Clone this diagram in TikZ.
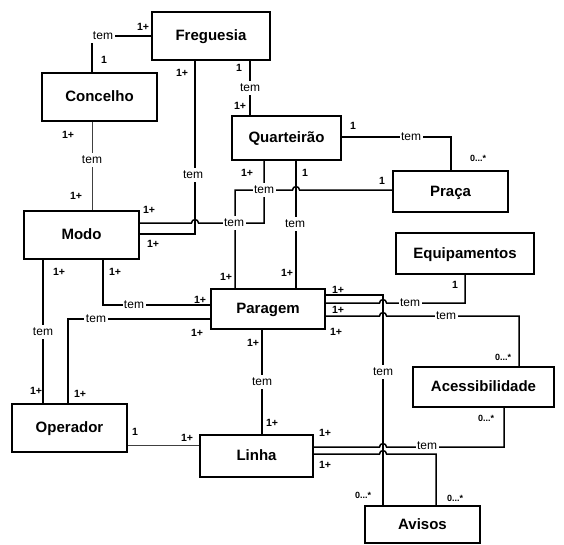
\documentclass[tikz,border=0pt]{standalone}
\usepackage{fontspec}
\setmainfont{Liberation Sans}
\begin{document}
\begin{tikzpicture}[x=1pt,y=-1pt,
  box/.style={draw,line width=2pt,fill=white,inner sep=0pt,text height=11pt,text depth=2pt,font=\bfseries\fontsize{15}{18}\selectfont},
  ln/.style={line width=1.5pt,line join=miter},
  thin/.style={line width=1pt,draw=black!75},
  tem/.style={fill=white,inner xsep=1.5pt,inner ysep=3pt,font=\fontsize{12}{13}\selectfont},
  card/.style={inner sep=0pt,font=\bfseries\fontsize{10.5}{12}\selectfont},
  cardz/.style={inner sep=0pt,font=\bfseries\fontsize{9}{10}\selectfont}]
\useasboundingbox (0,0) rectangle (564,544);
% boxes
\node[box,minimum width=118pt,minimum height=48pt] (freg) at (211,36) {Freguesia};
\node[box,minimum width=115pt,minimum height=48pt] (conc) at (99.5,97) {Concelho};
\node[box,minimum width=109pt,minimum height=44pt] (quar) at (286.5,138) {Quarteirão};
\node[box,minimum width=115pt,minimum height=41pt] (praca) at (450.5,191.5) {Praça};
\node[box,minimum width=138pt,minimum height=41pt] (equip) at (465,253.5) {Equipamentos};
\node[box,minimum width=115pt,minimum height=48pt] (modo) at (81.5,235) {Modo};
\node[box,minimum width=114pt,minimum height=40pt] (parag) at (268,309) {Paragem};
\node[box,minimum width=141pt,minimum height=40pt] (acess) at (483.5,387) {Acessibilidade};
\node[box,minimum width=115pt,minimum height=48pt] (oper) at (69.5,428) {Operador};
\node[box,minimum width=113pt,minimum height=42pt] (linha) at (256.5,456) {Linha};
\node[box,minimum width=115pt,minimum height=37pt] (avisos) at (422.5,524.5) {Avisos};

% Freguesia - Concelho
\draw[ln] (freg.west |- 0,36) -- (92,36) -- (conc.north -| 92,0);
\node[tem] (t1) at (103,36) {tem};
\node[card] (c1a) at (143,27) {1+};
\node[card] (c1b) at (104,60) {1};
% Freguesia - Quarteirao
\draw[ln] (freg.south -| 250,0) -- (quar.north -| 250,0);
\node[tem] (t2) at (250,88) {tem};
\node[card] (c2a) at (239,68) {1};
\node[card] (c2b) at (240,106) {1+};
% Freguesia - Modo
\draw[ln] (freg.south -| 195,0) -- (195,234) -- (modo.east |- 0,234);
\node[tem] (t3) at (193,175) {tem};
\node[card] (c3a) at (182,73) {1+};
\node[card] (c3b) at (153,244) {1+};
% Quarteirao - Modo (hop over x=195)
\draw[ln] (quar.south -| 264,0) -- (264,223) -- (198.5,223)
  .. controls (198.5,218.5) and (191.5,218.5) .. (191.5,223) -- (modo.east |- 0,223);
\node[card] (c4a) at (247,173) {1+};
\node[card] (c4b) at (149,210) {1+};
% Paragem - Praca (hop over x=296)
\draw[ln] (parag.north -| 235,0) -- (235,190) -- (292.5,190)
  .. controls (292.5,185.5) and (299.5,185.5) .. (299.5,190) -- (praca.west |- 0,190);
\node[tem] (t5) at (264,190) {tem};
\node[tem] (t4) at (234,223) {tem};
\node[card] (c5a) at (226,277) {1+};
\node[card] (c5b) at (382,181) {1};
% Quarteirao - Paragem
\draw[ln] (quar.south -| 296,0) -- (parag.north -| 296,0);
\node[tem] (t6) at (295,224) {tem};
\node[card] (c6a) at (305,173) {1};
\node[card] (c6b) at (287,273) {1+};
% Quarteirao - Praca
\draw[ln] (quar.east |- 0,137) -- (451,137) -- (praca.north -| 451,0);
\node[tem] (t7) at (411,137) {tem};
\node[card] (c7a) at (353,126) {1};
\node[cardz] (c7b) at (478,158) {0...*};
% Concelho - Modo
\draw[thin] (conc.south -| 92,0) -- (modo.north -| 92,0);
\node[tem] (t8) at (92,160) {tem};
\node[card] (c8a) at (68,135) {1+};
\node[card] (c8b) at (76,196) {1+};
% Modo - Paragem
\draw[ln] (modo.south -| 103,0) -- (103,305) -- (parag.west |- 0,305);
\node[tem] (t9) at (134,305) {tem};
\node[card] (c9a) at (115,272) {1+};
\node[card] (c9b) at (200,300) {1+};
% Modo - Operador
\draw[ln] (modo.south -| 43,0) -- (oper.north -| 43,0);
\node[tem] (t10) at (43,332) {tem};
\node[card] (c10a) at (59,272) {1+};
\node[card] (c10b) at (36,391) {1+};
% Paragem - Operador
\draw[ln] (parag.west |- 0,319) -- (68,319) -- (oper.north -| 68,0);
\node[tem] (t11) at (96,319) {tem};
\node[card] (c11a) at (197,333) {1+};
\node[card] (c11b) at (80,394) {1+};
% Paragem - Linha
\draw[ln] (parag.south -| 262,0) -- (linha.north -| 262,0);
\node[tem] (t12) at (262,382) {tem};
\node[card] (c12a) at (253,343) {1+};
\node[card] (c12b) at (272,423) {1+};
% Operador - Linha
\draw[thin] (oper.east |- 0,445) -- (linha.west |- 0,445);
\node[card] (c13a) at (135,432) {1};
\node[card] (c13b) at (187,438) {1+};
% Paragem - Avisos
\draw[ln] (parag.east |- 0,295) -- (383,295) -- (avisos.north -| 383,0);
\node[tem] (t14) at (383,372) {tem};
\node[card] (c14a) at (338,290) {1+};
\node[cardz] (c14b) at (363,495) {0...*};
% Paragem - Equipamentos (hop)
\draw[ln] (parag.east |- 0,303) -- (379.5,303)
  .. controls (379.5,298.5) and (386.5,298.5) .. (386.5,303) -- (465,303) -- (equip.south -| 465,0);
\node[tem] (t15) at (410,303) {tem};
\node[card] (c15a) at (338,310) {1+};
\node[card] (c15b) at (455,285) {1};
% Paragem - Acessibilidade (hop)
\draw[ln] (parag.east |- 0,316) -- (379.5,316)
  .. controls (379.5,311.5) and (386.5,311.5) .. (386.5,316) -- (519,316) -- (acess.north -| 519,0);
\node[tem] (t16) at (446,316) {tem};
\node[card] (c16a) at (336,332) {1+};
\node[cardz] (c16b) at (503,357) {0...*};
% Linha - Acessibilidade (hop)
\draw[ln] (linha.east |- 0,447) -- (379.5,447)
  .. controls (379.5,442.5) and (386.5,442.5) .. (386.5,447) -- (504,447) -- (acess.south -| 504,0);
\node[tem] (t17) at (427,446) {tem};
\node[card] (c17a) at (325,433) {1+};
\node[cardz] (c17b) at (486,418) {0...*};
% Linha - Avisos (hop)
\draw[ln] (linha.east |- 0,454) -- (379.5,454)
  .. controls (379.5,449.5) and (386.5,449.5) .. (386.5,454) -- (436,454) -- (avisos.north -| 436,0);
\node[card] (c18a) at (325,465) {1+};
\node[cardz] (c18b) at (455,498) {0...*};
\end{tikzpicture}
\end{document}
